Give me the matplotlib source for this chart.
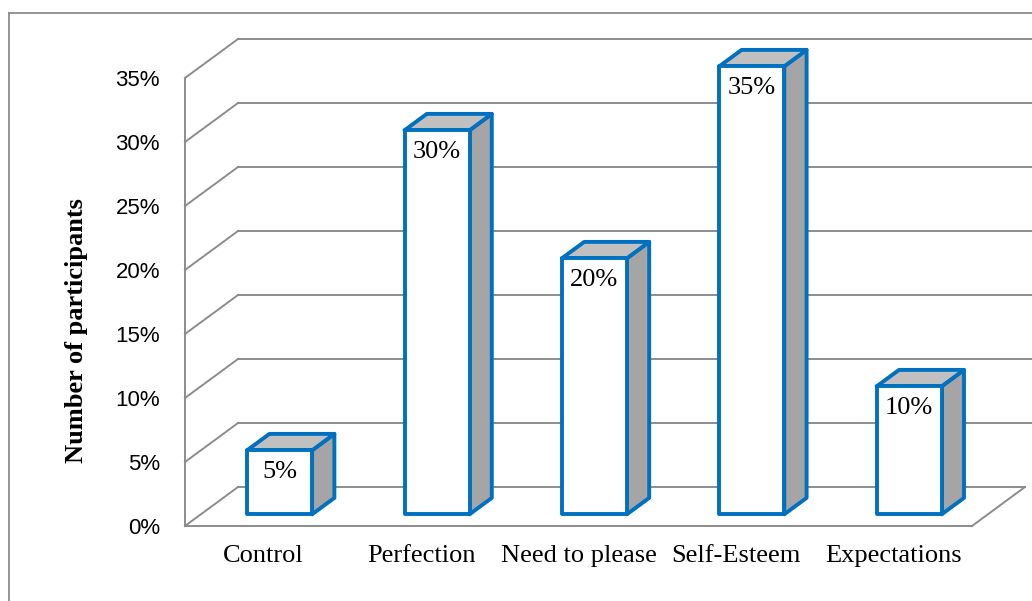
import numpy as np
import matplotlib
matplotlib.use("Agg")
import matplotlib.pyplot as plt
from matplotlib.patches import Polygon

categories = ["Control", "Perfection", "Need to please", "Self-Esteem", "Expectations"]
values = [5, 30, 20, 35, 10]
y_ticks = [0, 5, 10, 15, 20, 25, 30, 35]
y_tick_labels = ["0%", "5%", "10%", "15%", "20%", "25%", "30%", "35%"]
value_labels = ["5%", "30%", "20%", "35%", "10%"]

# oblique projection of the chart's depth axis
DX = 0.337   # shift in category units for full depth
DY = 3.05    # shift in percent units for full depth
BAR_D0, BAR_D1 = 0.30, 0.72
BAR_W = 0.413
BLUE = "#0070C0"
GRID = "#8c8c8c"


def proj(x, y, d):
    return x + d * DX, y + d * DY


def face(ax, pts, fc, z):
    ax.add_patch(Polygon(pts, closed=True, facecolor=fc, edgecolor=BLUE,
                         linewidth=2.8, joinstyle="round", zorder=z))


fig = plt.figure(figsize=(10.32, 6.01), dpi=100)
ax = fig.add_axes([0, 0, 1, 1])
ax.set_xlim(-1.1753, 5.3812)
ax.set_ylim(-5.859, 41.094)
ax.axis("off")

n = len(categories)
x_end = ax.get_xlim()[1]

# outer chart frame
fx, fy = -1.118, 40.08
ax.plot([fx, fx], [ax.get_ylim()[0], fy], color="#8c8c8c", lw=1.3)
ax.plot([fx, x_end], [fy, fy], color="#8c8c8c", lw=1.3)

# walls: back grid lines and left wall diagonals
for t in y_ticks:
    bx, by = proj(0, t, 1)
    fx0, fy0 = proj(0, t, 0)
    ax.plot([fx0, bx], [fy0, by], color=GRID, lw=1.4, zorder=1)
    if t == 0:
        rx, ry = proj(n, 0, 1)
        ax.plot([bx, rx], [by, ry], color=GRID, lw=1.4, zorder=1)
    else:
        ax.plot([bx, x_end], [by, by], color=GRID, lw=1.4, zorder=1)
ax.plot([0, 0], [0, y_ticks[-1]], color=GRID, lw=1.4, zorder=1)
# floor front and right edges
ax.plot([0, n], [0, 0], color=GRID, lw=1.4, zorder=1)
rx, ry = proj(n, 0, 1)
ax.plot([n, rx], [0, ry], color=GRID, lw=1.4, zorder=1)

# bars
for i, v in enumerate(values):
    xl = i + 0.5 - BAR_W / 2
    xr = i + 0.5 + BAR_W / 2
    top = [proj(xl, v, BAR_D0), proj(xr, v, BAR_D0),
           proj(xr, v, BAR_D1), proj(xl, v, BAR_D1)]
    side = [proj(xr, 0, BAR_D0), proj(xr, v, BAR_D0),
            proj(xr, v, BAR_D1), proj(xr, 0, BAR_D1)]
    front = [proj(xl, 0, BAR_D0), proj(xr, 0, BAR_D0),
             proj(xr, v, BAR_D0), proj(xl, v, BAR_D0)]
    face(ax, side, "#A5A5A5", 3)
    face(ax, top, "#C0C0C0", 3)
    face(ax, front, "white", 4)
    cx, cy = proj(i + 0.5, v, BAR_D0)
    ax.text(cx, cy - 0.8, value_labels[i], ha="center", va="top",
            fontsize=19, family="Liberation Serif", zorder=5)

# axis text
for t, lab in zip(y_ticks, y_tick_labels):
    ax.text(-0.159, t - 0.2, lab, ha="right", va="center",
            fontsize=16, family="Liberation Sans")
for i, c in enumerate(categories):
    ax.text(i + 0.5, -2.34, c, ha="center", va="center",
            fontsize=19, family="Liberation Serif")
ax.text(-0.69, 15.3, "Number of participants", rotation=90, ha="center",
        va="center", fontsize=19, fontweight="bold", family="Liberation Serif")

fig.savefig("out.png", dpi=100)
